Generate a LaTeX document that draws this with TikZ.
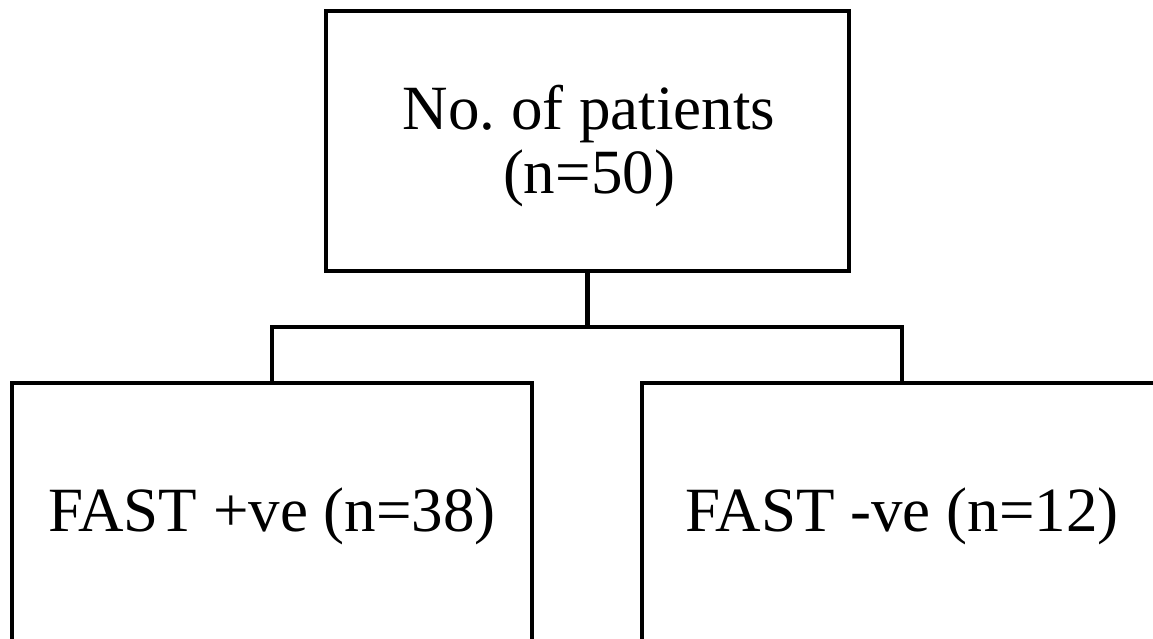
\documentclass[tikz,border=0pt]{standalone}
\usepackage{fontspec}
\setmainfont{Liberation Serif}
\frenchspacing
\begin{document}
\begin{tikzpicture}[x=1pt,y=-1pt,
  box/.style={draw=black,line width=4.2pt,inner sep=0pt,rectangle},
  txt/.style={inner sep=0pt,align=center,font=\fontsize{63}{64}\selectfont},
  conn/.style={draw=black,line width=4.2pt}]
\useasboundingbox (0,0) rectangle (1153,638);
\clip (0,0) rectangle (1153,638);
\fill[white] (0,0) rectangle (1153,638);
\node[box,minimum width=523pt,minimum height=260pt] (top) at (587.5,141) {};
\node[txt] (toptext) at (589,146.4) {No. of patients\\(n=50)};
\node[box,minimum width=520pt,minimum height=380pt,anchor=north] (left) at (272,381) {};
\node[box,minimum width=520pt,minimum height=380pt,anchor=north] (right) at (902,381) {};
\node[txt,anchor=base] (lefttext) at (272,531) {FAST +ve (n=38)};
\node[txt,anchor=base] (righttext) at (902,531) {FAST -ve (n=12)};
\coordinate (j) at (587.5,327);
\draw[conn] (top.south) -- (j);
\draw[conn] (left.north) |- (j) -| (right.north);
\end{tikzpicture}
\end{document}
